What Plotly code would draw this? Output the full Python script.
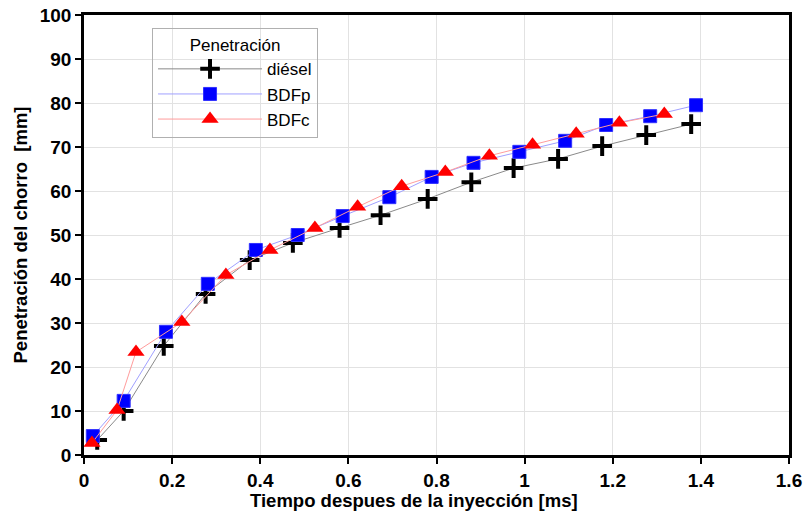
import plotly.graph_objects as go

t_diesel = [0.03, 0.09, 0.181, 0.276, 0.376, 0.474, 0.580, 0.673, 0.780, 0.879, 0.975, 1.076, 1.176, 1.276, 1.378]
p_diesel = [3.4, 10.0, 24.8, 36.6, 44.3, 48.2, 51.6, 54.5, 58.2, 62.0, 65.2, 67.3, 70.2, 72.7, 75.2]

t_bdfp = [0.02, 0.09, 0.186, 0.281, 0.39, 0.485, 0.587, 0.693, 0.789, 0.884, 0.988, 1.092, 1.185, 1.285, 1.389]
p_bdfp = [4.3, 12.3, 28.0, 38.9, 46.6, 50.0, 54.3, 58.6, 63.2, 66.4, 68.9, 71.4, 75.0, 77.0, 79.5]

t_bdfc = [0.018, 0.075, 0.118, 0.222, 0.322, 0.422, 0.524, 0.621, 0.721, 0.82, 0.92, 1.018, 1.117, 1.215, 1.317]
p_bdfc = [2.7, 10.2, 23.4, 30.2, 40.9, 46.6, 51.6, 56.4, 61.1, 64.3, 68.0, 70.5, 73.0, 75.5, 77.5]

x_ticks = [0, 0.2, 0.4, 0.6, 0.8, 1.0, 1.2, 1.4, 1.6]
x_labels = ["0", "0.2", "0.4", "0.6", "0.8", "1", "1.2", "1.4", "1.6"]
y_ticks = list(range(0, 101, 10))

fig = go.Figure()
fig.add_trace(go.Scatter(
    x=t_diesel, y=p_diesel, name="diésel", mode="lines+markers",
    line=dict(color="#8a8a8a", width=1),
    marker=dict(symbol="cross-thin", size=14, color="black",
                line=dict(color="black", width=4))))
fig.add_trace(go.Scatter(
    x=t_bdfp, y=p_bdfp, name="BDFp", mode="lines+markers",
    line=dict(color="#a0a0ff", width=1),
    marker=dict(symbol="square", size=13, color="#0000ff",
                line=dict(color="#3030ff", width=1))))
fig.add_trace(go.Scatter(
    x=t_bdfc, y=p_bdfc, name="BDFc", mode="lines+markers",
    line=dict(color="#ff9c9c", width=1),
    marker=dict(symbol="triangle-up", size=15, color="#ff0000",
                line=dict(color="#ff0000", width=0))))

tick_font = dict(family="Liberation Sans, Arial, sans-serif", size=19, color="black", weight="bold")
title_font = dict(family="Liberation Sans, Arial, sans-serif", size=18.5, color="black", weight="bold")

fig.update_layout(
    width=805, height=513,
    margin=dict(l=84, r=16, t=15, b=58, autoexpand=False),
    paper_bgcolor="white", plot_bgcolor="white",
    font=dict(family="Liberation Sans, Arial, sans-serif", color="black"),
    legend=dict(
        x=0.0965, y=0.97, xanchor="left", yanchor="top",
        bordercolor="#b0b0b0", borderwidth=1, bgcolor="rgba(255,255,255,0)",
        font=dict(size=17, color="black"),
        title=dict(text="Penetración", side="top center", font=dict(size=17, color="black")),
        itemwidth=104, tracegroupgap=0,
    ),
    xaxis=dict(
        range=[0, 1.6], tickvals=x_ticks, ticktext=x_labels, automargin=False,
        showline=True, linecolor="black", linewidth=2.5, mirror=True,
        ticks="outside", ticklen=6, tickwidth=2, tickcolor="black",
        showgrid=True, gridcolor="#e2e2e2", gridwidth=1, zeroline=False,
        tickfont=tick_font,
    ),
    yaxis=dict(
        range=[0, 100], tickvals=y_ticks, automargin=False,
        showline=True, linecolor="black", linewidth=2.5, mirror=True,
        ticks="outside", ticklen=6, tickwidth=2, tickcolor="black",
        showgrid=True, gridcolor="#e2e2e2", gridwidth=1, zeroline=False,
        tickfont=tick_font,
        title=dict(text="Penetración del chorro  [mm]", font=title_font, standoff=8),
    ),
    annotations=[dict(
        text="Tiempo despues de la inyección [ms]", xref="paper", yref="paper",
        x=0.468, y=-0.1045, xanchor="center", yanchor="middle",
        showarrow=False, font=title_font,
    )],
)

fig.write_html("out.html")
